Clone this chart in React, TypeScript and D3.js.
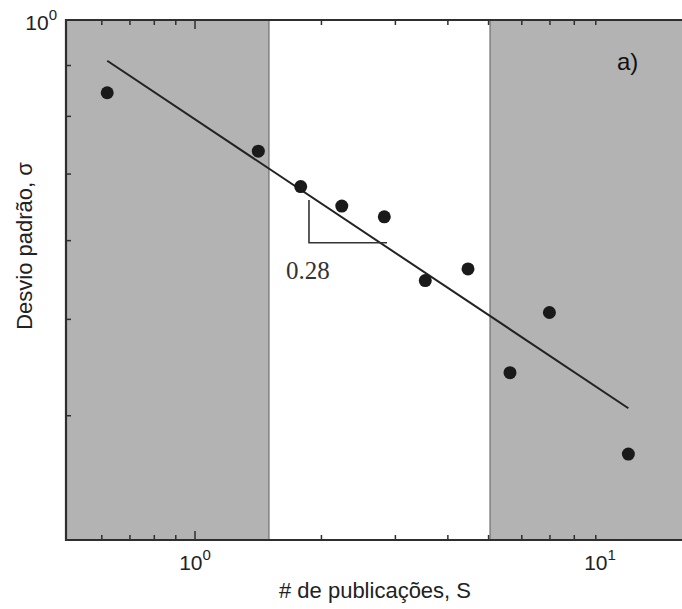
import React from "react";
import * as d3 from "d3";

// ---- data ----
const publications = [0.618, 1.415, 1.785, 2.236, 2.823, 3.534, 4.467, 5.623, 6.98, 10.76];
const stdDev = [0.845, 0.738, 0.68, 0.65, 0.634, 0.547, 0.562, 0.442, 0.508, 0.366];
const fitLineS = [0.618, 10.76];
const fitLineSigma = [0.91, 0.407];
const shadedLeft = [0.493, 1.5];
const shadedRight = [5.04, 16];
const triangleS = [1.868, 2.865];
const triangleSigma = [0.659, 0.597];
const slopeLabel = "0.28";
const slopeLabelPos = [1.647, 0.549];
const xMinorTicks = [0.6, 0.7, 0.8, 0.9, 2, 3, 4, 5, 6, 7, 8, 9];
const xMajorTicks = [1];
const xTickLabels = [
  { v: 1, base: "10", exp: "0", shift: 0 },
  { v: 10, base: "10", exp: "1", shift: -15 },
];
const yMinorTicks = [0.4, 0.5, 0.6, 0.7, 0.8, 0.9];
const xTitle = "# de publicações, S";
const yTitle = "Desvio padrão, σ";
const panelLabel = "a)";

const W = 682;
const H = 609;
const left = 66;
const top = 20;
const bottom = 540;

export default function App() {
  const x = d3.scaleLog().domain([0.493, 16]).range([left, left + 420 * Math.log10(16 / 0.493)]);
  const y = d3.scaleLog().domain([0.3, 1]).range([bottom, top]);
  const font = "Liberation Sans, Arial, Helvetica, sans-serif";
  const serif = "Liberation Serif, Times New Roman, serif";
  const frame = "#2e2e2e";
  const gray = "#b3b3b3";
  const line = d3
    .line<number>()
    .x((_, i) => x(fitLineS[i]))
    .y((_, i) => y(fitLineSigma[i]));
  const triPath = `M${x(triangleS[0])},${y(triangleSigma[0])}L${x(triangleS[0])},${y(triangleSigma[1])}L${x(triangleS[1])},${y(triangleSigma[1])}`;
  return (
    <svg
      width={W}
      height={H}
      style={{ position: "absolute", left: 0, top: 0, background: "#fff" }}
    >
      <rect x={0} y={0} width={W} height={H} fill="#fff" />
      {[shadedLeft, shadedRight].map((r, i) => (
        <rect
          key={i}
          x={x(r[0])}
          y={top}
          width={x(r[1]) - x(r[0])}
          height={bottom - top}
          fill={gray}
        />
      ))}
      {[shadedLeft[1], shadedRight[0]].map((v, i) => (
        <line key={i} x1={x(v)} x2={x(v)} y1={top} y2={bottom} stroke="#6e6e6e" strokeWidth={1.2} />
      ))}
      {/* ticks */}
      {xMinorTicks.map((v) => (
        <g key={"xm" + v}>
          <line x1={x(v)} x2={x(v)} y1={bottom} y2={bottom - 5} stroke={frame} strokeWidth={1.5} />
          <line x1={x(v)} x2={x(v)} y1={top} y2={top + 5} stroke={frame} strokeWidth={1.5} />
        </g>
      ))}
      {xMajorTicks.map((v) => (
        <g key={"xM" + v}>
          <line x1={x(v)} x2={x(v)} y1={bottom} y2={bottom - 9} stroke={frame} strokeWidth={1.5} />
          <line x1={x(v)} x2={x(v)} y1={top} y2={top + 9} stroke={frame} strokeWidth={1.5} />
        </g>
      ))}
      {yMinorTicks.map((v) => (
        <line key={"ym" + v} x1={left} x2={left + 5} y1={y(v)} y2={y(v)} stroke={frame} strokeWidth={1.5} />
      ))}
      {/* frame */}
      <path d={`M${W + 5},${top}H${left}V${bottom}H${W + 5}`} fill="none" stroke={frame} strokeWidth={2.2} />
      {/* fit line */}
      <path d={line(fitLineS) || ""} fill="none" stroke="#222" strokeWidth={2} />
      {/* slope triangle */}
      <path d={triPath} fill="none" stroke="#333" strokeWidth={1.6} />
      <text x={x(slopeLabelPos[0])} y={y(slopeLabelPos[1])} fontFamily={serif} fontSize={25} fill="#333">
        {slopeLabel}
      </text>
      {/* points */}
      {publications.map((s, i) => (
        <circle key={i} cx={x(s)} cy={y(stdDev[i])} r={6.5} fill="#1a1a1a" />
      ))}
      {/* tick labels */}
      {xTickLabels.map((t) => (
        <text
          key={t.v}
          x={x(t.v) + t.shift}
          y={570}
          textAnchor="middle"
          fontFamily={font}
          fontSize={21}
          fill="#222"
        >
          {t.base}
          <tspan dy={-10} fontSize={15}>
            {t.exp}
          </tspan>
        </text>
      ))}
      <text x={57} y={30} textAnchor="end" fontFamily={font} fontSize={21} fill="#222">
        10
        <tspan dy={-10} fontSize={15}>
          0
        </tspan>
      </text>
      {/* titles */}
      <text x={375} y={598} textAnchor="middle" fontFamily={font} fontSize={22} fill="#222">
        {xTitle}
      </text>
      <text
        transform={`translate(32,${246}) rotate(-90)`}
        textAnchor="middle"
        fontFamily={font}
        fontSize={22}
        fill="#222"
      >
        {yTitle}
      </text>
      <text x={617} y={70} fontFamily={font} fontSize={24} fill="#111">
        {panelLabel}
      </text>
    </svg>
  );
}
